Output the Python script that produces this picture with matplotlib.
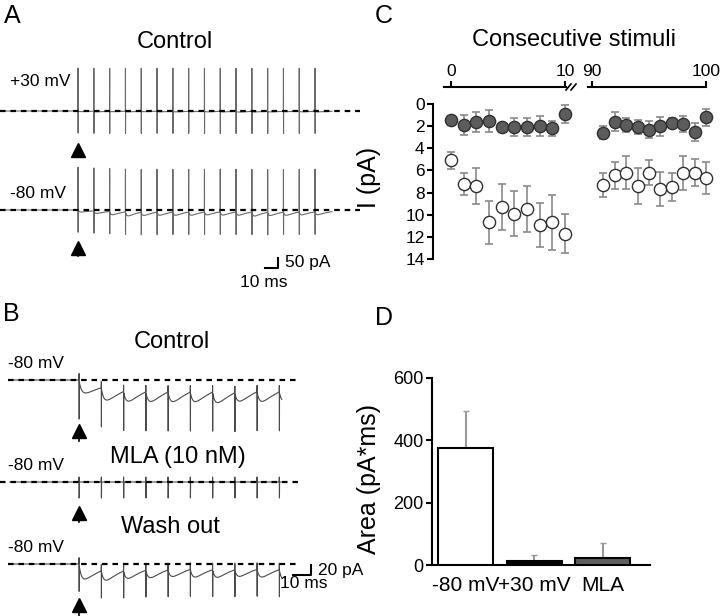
import numpy as np
import matplotlib.pyplot as plt
from matplotlib.lines import Line2D

plt.rcParams['font.family'] = ['Liberation Sans', 'DejaVu Sans']

# ---- data ----
isi = 12.5  # ms between stimuli (80 Hz)

# Panel A: response amplitude per stimulus (pA), artifact size (pA)
a_pos30_amp = [3, 3, 2, 3, 2, 3, 3, 2, 3, 3, 4, 3, 3, 2, 3, 3]
a_neg80_amp = [10, 14, 18, 22, 18, 18, 18, 18, 16, 18, 18, 22, 18, 18, 16, 16]
a_art_up = 215
a_art_down = 110

# Panel B: response amplitude per stimulus (pA)
b_ctrl_amp = [26, 28, 24, 24, 24, 24, 26, 22, 24, 22]
b_mla_amp = [0, 0, 0, 0, 0, 0, 0, 0, 0, 0]
b_wash_amp = [30, 22, 18, 18, 16, 18, 18, 16, 18, 22]
b_art_up = [14, 10, 14]
b_art_down = [76, 32, 52]

# Panel C: mean current (pA) and error per stimulus
c_stim_left = [1, 2, 3, 4, 5, 6, 7, 8, 9, 10]
c_stim_right = [91, 92, 93, 94, 95, 96, 97, 98, 99, 100]
c_p30_left = [1.4, 1.9, 1.6, 1.5, 2.1, 2.1, 2.1, 2.0, 2.2, 0.9]
c_p30_left_err = [0.3, 0.9, 0.9, 1.0, 0.3, 0.8, 0.8, 0.9, 0.65, 0.8]
c_m80_left = [5.1, 7.2, 7.4, 10.7, 9.3, 9.9, 9.5, 10.9, 10.7, 11.7]
c_m80_left_err = [0.8, 1.0, 1.6, 1.9, 2.1, 2.0, 2.1, 2.0, 2.5, 1.8]
c_p30_right = [2.6, 1.6, 1.9, 2.1, 2.3, 2.0, 1.7, 1.8, 2.5, 1.2]
c_p30_right_err = [0.6, 0.85, 0.6, 0.65, 0.75, 0.85, 0.4, 0.75, 0.8, 0.75]
c_m80_right = [7.3, 6.45, 6.2, 7.4, 6.2, 7.7, 7.5, 6.2, 6.2, 6.7]
c_m80_right_err = [1.1, 1.25, 1.5, 1.6, 1.15, 1.55, 1.25, 1.55, 1.2, 1.45]

# Panel D
d_labels = ['-80 mV', '+30 mV', 'MLA']
d_area = [375, 14, 21]
d_err = [118, 18, 49]

W, H = 720, 616


def fx(x):
    return x / W


def fy(y):
    return 1 - y / H


def box(x0, y0, x1, y1):
    # pixel box -> figure fraction rect
    return [fx(x0), fy(y1), (x1 - x0) / W, (y1 - y0) / H]


def build_trace(t, amps, up, down, tau_r, tau_d):
    y = np.zeros_like(t)
    s = np.linspace(0, 5 * tau_d, 2000)
    kpk = (np.exp(-s / tau_d) - np.exp(-s / tau_r)).max()
    for k, a in enumerate(amps):
        ti = k * isi
        s = t - ti
        m = s > 0
        y[m] -= a * (np.exp(-s[m] / tau_d) - np.exp(-s[m] / tau_r)) / kpk
        i = np.searchsorted(t, ti)
        y[i] += up
        y[i + 1] -= down
    return y


def stim_arrow(ax, y_tri, y_stem):
    ax.plot([0, 0], [y_stem, y_tri], color='k', lw=1.2)
    ax.plot(0, y_tri, marker='^', ms=10, color='k')


fig = plt.figure(figsize=(7.2, 6.16), dpi=100)

# ---------------- Panel A ----------------
axa = fig.add_axes(box(0, 55, 360, 295))
axa.set_xlim(-78 / 1.264, 282 / 1.264)
axa.set_ylim(-920, 280)
axa.axis('off')
ta = np.arange(-59, 201, 0.05)
for base, amps in [(0, a_pos30_amp), (-495, a_neg80_amp)]:
    y = build_trace(ta, amps, a_art_up, a_art_down, 1.0, 10.0)
    axa.plot(ta, base + y, color='#6a6a6a', lw=0.8)
    axa.plot([-62, 224], [base, base], color='k', lw=1.6, dashes=(2.5, 2.2), zorder=3)
stim_arrow(axa, -195, -232)
stim_arrow(axa, -685, -725)
axa.plot([148.2, 158.2, 158.2], [-785, -785, -735], color='k', lw=1.5)
axa.text(163.5, -760, '50 pA', fontsize=12.5, va='center', ha='left')
axa.text(147, -858, '10 ms', fontsize=12.5, va='center', ha='center')

fig.text(fx(4), fy(16), 'A', fontsize=18, va='center')
fig.text(fx(175), fy(42), 'Control', fontsize=17, ha='center', va='center')
fig.text(fx(10), fy(82), '+30 mV', fontsize=12.5, va='center')
fig.text(fx(10), fy(194), '-80 mV', fontsize=12.5, va='center')

# ---------------- Panel B ----------------
axb = fig.add_axes(box(0, 330, 360, 616))
axb.set_xlim(-79 / 1.78, 281 / 1.78)
axb.set_ylim(-472, 100)
axb.axis('off')
tb = np.arange(-38.8, 114, 0.05)
b_sets = [(0, b_ctrl_amp, 14.0, -40), (-204, b_mla_amp, 10.0, -44.4), (-368, b_wash_amp, 10.0, -40)]
for k, (base, amps, td, d0) in enumerate(b_sets):
    y = build_trace(tb, amps, b_art_up[k], b_art_down[k], 1.5, td)
    axb.plot(tb, base + y, color='#4a4a4a', lw=0.8)
    axb.plot([d0, 124], [base, base], color='k', lw=1.6, dashes=(2.5, 2.2), zorder=3)
stim_arrow(axb, -102, -122)
stim_arrow(axb, -266, -284)
stim_arrow(axb, -450, -472)
axb.plot([120.3, 130.3, 130.3], [-390, -390, -370], color='k', lw=1.5)
axb.text(134.3, -380, '20 pA', fontsize=12.5, va='center', ha='left')
axb.text(126, -408, '10 ms', fontsize=12.5, va='center', ha='center')

fig.text(fx(3), fy(314), 'B', fontsize=18, va='center')
fig.text(fx(172), fy(342), 'Control', fontsize=17, ha='center', va='center')
fig.text(fx(178), fy(457), 'MLA (10 nM)', fontsize=17, ha='center', va='center')
fig.text(fx(170), fy(527), 'Wash out', fontsize=17, ha='center', va='center')
for yy in [363, 465, 547]:
    fig.text(fx(8), fy(yy), '-80 mV', fontsize=12.5, va='center')

# ---------------- Panel C ----------------
ylim_c = (14.27, -1.54)
axc1 = fig.add_axes(box(433, 87, 577, 262))
axc2 = fig.add_axes(box(577, 87, 715, 262))
xl = [(n - 1) * 10 / 9 for n in c_stim_left]
ekw = dict(fmt='none', ecolor='#8a8a8a', elinewidth=1.2, capsize=3, capthick=1.2, zorder=2)
for ax, xs, p30, p30e, m80, m80e in [
        (axc1, xl, c_p30_left, c_p30_left_err, c_m80_left, c_m80_left_err),
        (axc2, c_stim_right, c_p30_right, c_p30_right_err, c_m80_right, c_m80_right_err)]:
    ax.errorbar(xs, p30, yerr=p30e, **ekw)
    ax.errorbar(xs, m80, yerr=m80e, **ekw)
    ax.plot(xs, p30, 'o', ms=8.8, mfc='#5c5c5c', mec='#303030', mew=1, zorder=4, ls='none')
    ax.plot(xs, m80, 'o', ms=8.8, mfc='white', mec='#303030', mew=1, zorder=4, ls='none')
    ax.set_ylim(*ylim_c)
    ax.set_facecolor('none')
    for sp in ['right', 'bottom']:
        ax.spines[sp].set_visible(False)
    ax.spines['top'].set_linewidth(1.5)
    ax.xaxis.tick_top()
    ax.tick_params(axis='x', direction='out', length=4, width=1.5, labelsize=12.5, pad=2)

axc1.set_xlim(-1.58, 11.05)
axc1.set_xticks([0, 10])
axc1.spines['top'].set_bounds(-0.6, 10.1)
axc1.spines['left'].set_bounds(0, 14)
axc1.spines['left'].set_linewidth(1.5)
axc1.set_yticks(range(0, 15, 2))
axc1.tick_params(axis='y', direction='out', length=4, width=1.5, labelsize=12.5, pad=2)
axc1.set_ylabel('I (pA)', fontsize=18)
axc1.yaxis.set_label_coords(-0.36, 0.486)

axc2.set_xlim(88.68, 100.79)
axc2.set_xticks([90, 100])
axc2.spines['top'].set_bounds(89.65, 100)
axc2.spines['left'].set_visible(False)
axc2.set_yticks([])

# axis break marks
for x0 in [566, 571]:
    fig.add_artist(Line2D([fx(x0), fx(x0 + 5)], [fy(90), fy(84)], color='k', lw=1.2))

fig.text(fx(375), fy(16), 'C', fontsize=18, va='center')
fig.text(fx(574), fy(40), 'Consecutive stimuli', fontsize=17, ha='center', va='center')

# ---------------- Panel D ----------------
axd = fig.add_axes(box(432, 378, 650, 565))
xd = np.arange(len(d_area))
axd.bar(xd, d_area, width=0.8, color=['white', 'black', '#5e5e5e'], edgecolor='black',
        linewidth=1.5, zorder=3)
axd.errorbar(xd, d_area, yerr=[np.zeros(len(d_err)), d_err], fmt='none', ecolor='#999999',
             elinewidth=1.5, capsize=2.5, zorder=2)
axd.set_xlim(-0.489, 2.69)
axd.set_ylim(0, 600)
axd.set_yticks([0, 200, 400, 600])
axd.set_xticks(xd)
axd.set_xticklabels(d_labels, fontsize=15)
axd.tick_params(axis='x', length=0, pad=8)
axd.tick_params(axis='y', direction='out', length=4, width=1.5, labelsize=13, pad=2)
for sp in ['top', 'right']:
    axd.spines[sp].set_visible(False)
for sp in ['left', 'bottom']:
    axd.spines[sp].set_linewidth(1.5)
axd.set_ylabel('Area (pA*ms)', fontsize=18)
axd.yaxis.set_label_coords(-0.234, 0.46)

fig.text(fx(375), fy(318), 'D', fontsize=18, va='center')

fig.savefig('out.png', dpi=100)
